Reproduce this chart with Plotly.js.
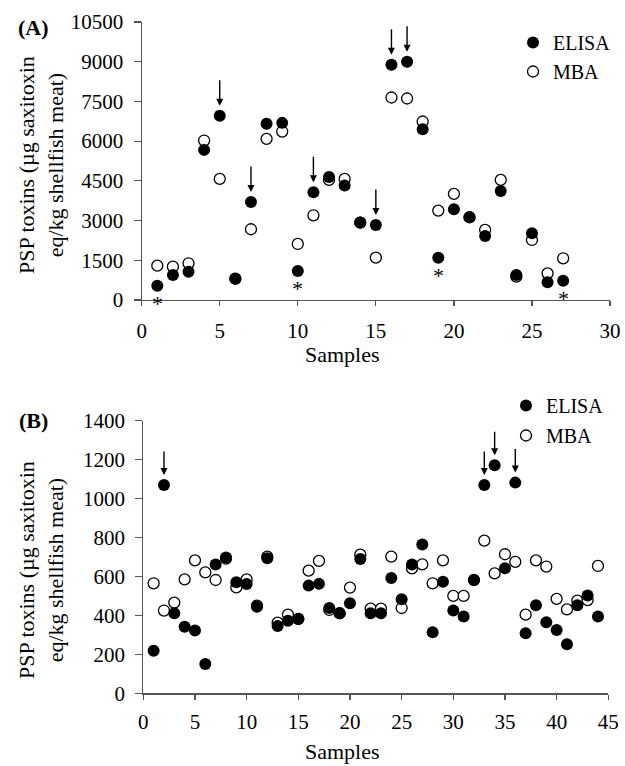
<!DOCTYPE html>
<html>
<head>
<meta charset="utf-8">
<script src="https://cdn.plot.ly/plotly-3.0.1.min.js"></script>
<style>html,body{margin:0;padding:0;background:#fff;}#chart{width:625px;height:766px;}</style>
</head>
<body>
<div id="chart"></div>
<script>
// ---------- Data: panel (A) ----------
const samplesA = [1,2,3,4,5,6,7,8,9,10,11,12,13,14,15,16,17,18,19,20,21,22,23,24,25,26,27];
const elisaA = [540,945,1070,5670,6955,806,3704,6653,6690,1096,4070,4650,4322,2923,2835,8883,8996,6451,1600,3428,3125,2419,4120,945,2520,668,731];
const mbaA   = [1297,1260,1386,6023,4574,806,2672,6086,6363,2117,3200,4536,4574,2923,1600,7648,7610,6741,3377,4007,3125,2646,4536,882,2268,1008,1575];
const arrowSamplesA = [5,7,11,15,16,17];
const starSamplesA = [1,10,19,27];
const yTicksA = [0,1500,3000,4500,6000,7500,9000,10500];
const yTickTextA = ['0','1500','3000','4500','6000','7500','9000','10500'];
const xTicksA = [0,5,10,15,20,25,30];

// ---------- Data: panel (B) ----------
const samplesB = [1,2,3,4,5,6,7,8,9,10,11,12,13,14,15,16,17,18,19,20,21,22,23,24,25,26,27,28,29,30,31,32,33,34,35,36,37,38,39,40,41,42,43,44];
const elisaB = [219,1070,411,342,322,151,662,698,570,561,445,693,346,373,382,553,562,438,411,462,690,411,411,592,483,662,764,313,573,425,394,582,1070,1171,642,1082,308,452,365,325,252,452,502,394];
const mbaB   = [565,425,466,585,683,621,582,692,544,585,450,702,363,404,382,630,680,428,411,543,712,435,435,702,438,642,662,565,683,500,500,582,784,616,714,675,404,683,651,485,431,476,479,654];
const arrowSamplesB = [2,33,34,36];
const yTicksB = [0,200,400,600,800,1000,1200,1400];
const yTickTextB = ['0','200','400','600','800','1000','1200','1400'];
const xTicksB = [0,5,10,15,20,25,30,35,40,45];

const seriesNames = ['ELISA','MBA'];
const yTitle = 'PSP toxins (µg saxitoxin<br>eq/kg shellfish meat)';
const xTitle = 'Samples';
const panelLabels = ['(A)','(B)'];

// ---------- Styles ----------
const FONT = 'Liberation Serif, Times New Roman, serif';
const W = 625, H = 766;
const openMarker = {symbol:'circle', size:11, color:'#ffffff', line:{color:'#000', width:1.3}};
const fillMarker = {symbol:'circle', size:12, color:'#000', line:{color:'#000', width:0}};

const traces = [
  {x:samplesA, y:mbaA, type:'scatter', mode:'markers', name:seriesNames[1], marker:openMarker, xaxis:'x', yaxis:'y', legend:'legend', legendgroup:'a2', legendrank:2},
  {x:samplesA, y:elisaA, type:'scatter', mode:'markers', name:seriesNames[0], marker:fillMarker, xaxis:'x', yaxis:'y', legend:'legend', legendgroup:'a1', legendrank:1},
  {x:samplesB, y:mbaB, type:'scatter', mode:'markers', name:seriesNames[1], marker:openMarker, xaxis:'x2', yaxis:'y2', legend:'legend2', legendgroup:'b2', legendrank:2},
  {x:samplesB, y:elisaB, type:'scatter', mode:'markers', name:seriesNames[0], marker:fillMarker, xaxis:'x2', yaxis:'y2', legend:'legend2', legendgroup:'b1', legendrank:1}
];

const annotations = [];
arrowSamplesA.forEach(s => {
  annotations.push({xref:'x', yref:'y', x:s, y:elisaA[samplesA.indexOf(s)], text:'', showarrow:true,
    ax:0, ay:-37, arrowhead:2, arrowsize:1, arrowwidth:1.4, arrowcolor:'#000', standoff:10});
});
starSamplesA.forEach(s => {
  annotations.push({xref:'x', yref:'y', x:s, y:elisaA[samplesA.indexOf(s)], text:'*', showarrow:false,
    yshift:-18, font:{family:FONT, size:22, color:'#000'}});
});
arrowSamplesB.forEach(s => {
  annotations.push({xref:'x2', yref:'y2', x:s, y:elisaB[samplesB.indexOf(s)], text:'', showarrow:true,
    ax:0, ay:-35, arrowhead:2, arrowsize:1, arrowwidth:1.4, arrowcolor:'#000', standoff:10});
});
// panel labels
annotations.push({xref:'paper', yref:'paper', x:33/W, y:1-27/H, xanchor:'center', yanchor:'middle',
  text:'<b>'+panelLabels[0]+'</b>', showarrow:false, font:{family:FONT, size:22, color:'#000'}});
annotations.push({xref:'paper', yref:'paper', x:33/W, y:1-420/H, xanchor:'center', yanchor:'middle',
  text:'<b>'+panelLabels[1]+'</b>', showarrow:false, font:{family:FONT, size:22, color:'#000'}});
// axis titles (placed as in the original figure)
annotations.push({xref:'paper', yref:'paper', x:342/W, y:1-354/H, xanchor:'center', yanchor:'middle',
  text:xTitle, showarrow:false, font:{family:FONT, size:22, color:'#000'}});
annotations.push({xref:'paper', yref:'paper', x:342/W, y:0, xanchor:'center', yanchor:'bottom',
  text:xTitle, showarrow:false, font:{family:FONT, size:22, color:'#000'}});
annotations.push({xref:'paper', yref:'paper', x:41/W, y:1-165/H, xanchor:'center', yanchor:'middle', textangle:-90,
  text:yTitle, showarrow:false, font:{family:FONT, size:22, color:'#000'}});
annotations.push({xref:'paper', yref:'paper', x:41/W, y:1-570/H, xanchor:'center', yanchor:'middle', textangle:-90,
  text:yTitle, showarrow:false, font:{family:FONT, size:22, color:'#000'}});

const axisCommon = {
  showgrid:false, zeroline:false, showline:true, linecolor:'#555', linewidth:1.2,
  ticks:'outside', tickcolor:'#555', tickwidth:1.2,
  tickfont:{family:FONT, size:21, color:'#000'}, fixedrange:true, automargin:false
};

const layout = {
  width:W, height:H, margin:{l:0, r:0, t:0, b:0},
  paper_bgcolor:'#fff', plot_bgcolor:'rgba(0,0,0,0)',
  font:{family:FONT, color:'#000'},
  xaxis: Object.assign({}, axisCommon, {domain:[141.7/W, 610/W], range:[0,30], tickvals:xTicksA, ticklen:5, ticklabelstandoff:7, anchor:'y'}),
  yaxis: Object.assign({}, axisCommon, {domain:[1-300/H, 1-22/H], range:[0,10500], tickvals:yTicksA, ticktext:yTickTextA, ticklen:7, ticklabelstandoff:6, anchor:'x'}),
  xaxis2: Object.assign({}, axisCommon, {domain:[143.3/W, 608.3/W], range:[0,45], tickvals:xTicksB, ticklen:5, ticklabelstandoff:4, anchor:'y2'}),
  yaxis2: Object.assign({}, axisCommon, {domain:[1-693.3/H, 1-420.7/H], range:[0,1400], tickvals:yTicksB, ticktext:yTickTextB, ticklen:7, ticklabelstandoff:6, anchor:'x2'}),
  legend:{x:513/W, y:1-23/H, xanchor:'left', yanchor:'top', bgcolor:'rgba(0,0,0,0)', borderwidth:0,
    font:{family:FONT, size:20, color:'#000'}, tracegroupgap:0, itemclick:false, itemdoubleclick:false},
  legend2:{x:506/W, y:1-386/H, xanchor:'left', yanchor:'top', bgcolor:'rgba(0,0,0,0)', borderwidth:0,
    font:{family:FONT, size:20, color:'#000'}, tracegroupgap:1, itemclick:false, itemdoubleclick:false},
  annotations: annotations,
  showlegend:true
};

Plotly.newPlot('chart', traces, layout, {displayModeBar:false, staticPlot:true});
</script>
</body>
</html>
